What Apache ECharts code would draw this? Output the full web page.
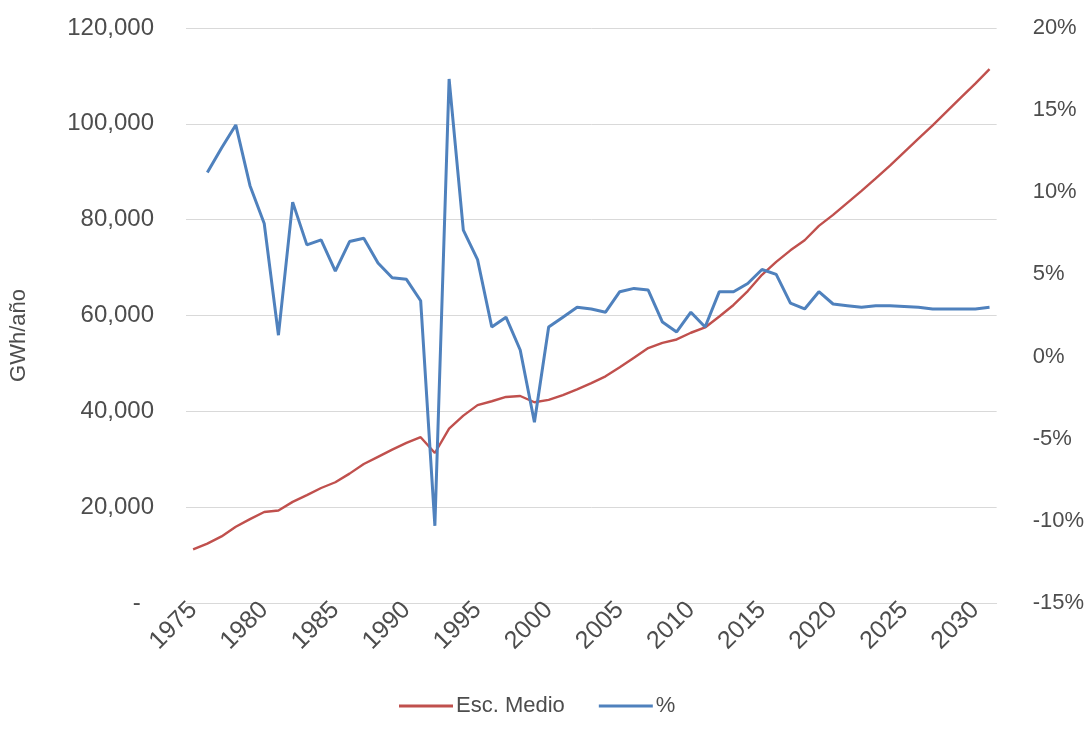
<!DOCTYPE html>
<html>
<head>
<meta charset="utf-8">
<script src="https://cdn.jsdelivr.net/npm/echarts@6/dist/echarts.min.js"></script>
<style>
  html, body { margin: 0; padding: 0; background: #ffffff; }
  #chart { width: 1087px; height: 734px; }
</style>
</head>
<body>
<div id="chart"></div>
<script>
// Years on the category axis
const years = [];
for (let y = 1975; y <= 2031; y++) years.push(String(y));

// Annual electricity demand, medium scenario (GWh/año)
const escMedio = [
  11200, 12400, 13900, 15900, 17500, 19000, 19300, 21100, 22500, 24000,
  25200, 27000, 29000, 30500, 32000, 33400, 34600, 31300, 36400, 39100,
  41300, 42100, 43000, 43200, 41900, 42400, 43400, 44600, 45900, 47300,
  49200, 51200, 53200, 54300, 55000, 56400, 57500, 59800, 62200, 65100,
  68500, 71200, 73600, 75700, 78700, 81000, 83500, 86000, 88600, 91300,
  94100, 96900, 99700, 102600, 105500, 108400, 111400
];

// Year-on-year growth (%), no value for the first year
const growthPct = [
  null, 11.2, 12.7, 14.1, 10.4, 8.1, 1.3, 9.4, 6.8, 7.1,
  5.2, 7.0, 7.2, 5.7, 4.8, 4.7, 3.4, -10.3, 16.9, 7.7,
  5.9, 1.8, 2.4, 0.4, -4.0, 1.8, 2.4, 3.0, 2.9, 2.7,
  3.95, 4.15, 4.05, 2.1, 1.5, 2.7, 1.8, 3.95, 3.95, 4.45,
  5.3, 5.0, 3.25, 2.9, 3.95, 3.2, 3.1, 3.0, 3.1, 3.1,
  3.05, 3.0, 2.9, 2.9, 2.9, 2.9, 3.0
];

const seriesNames = ['Esc. Medio', '%'];
const yLeftTitle = 'GWh/año';

const textColor = '#4d4d4d';
const font = 'Liberation Sans, Arial, sans-serif';

const chart = echarts.init(document.getElementById('chart'), null, { renderer: 'canvas' });

chart.setOption({
  animation: false,
  backgroundColor: '#ffffff',
  grid: { left: 182, right: 90, top: 28, bottom: 131, containLabel: false },
  legend: {
    bottom: 12,
    left: 394,
    itemWidth: 54,
    itemHeight: 3,
    itemGap: 34,
    icon: 'rect',
    textStyle: { color: textColor, fontSize: 22, fontFamily: font, padding: [0, 0, 0, -2] },
    data: seriesNames
  },
  xAxis: {
    type: 'category',
    data: years,
    boundaryGap: true,
    axisLine: { show: true, lineStyle: { color: '#d9d9d9', width: 1 } },
    axisTick: { show: false },
    axisLabel: {
      interval: 4,
      rotate: 45,
      margin: 3,
      padding: [0, 0, 12, 0],
      color: textColor,
      fontSize: 25,
      fontFamily: font
    },
    splitLine: { show: false }
  },
  yAxis: [
    {
      type: 'value',
      min: 0,
      max: 120000,
      interval: 20000,
      name: yLeftTitle,
      nameLocation: 'middle',
      nameRotate: 90,
      nameGap: 156,
      nameTextStyle: { color: textColor, fontSize: 22, fontFamily: font, padding: [0, 40, 0, 0] },
      axisLine: { show: false },
      axisTick: { show: false },
      axisLabel: {
        margin: 32,
        color: textColor,
        fontSize: 24,
        fontFamily: font,
        formatter: function (v) {
          if (v === 0) return '-  ';
          return v.toLocaleString('en-US');
        }
      },
      splitLine: { show: true, lineStyle: { color: '#d9d9d9', width: 1 } }
    },
    {
      type: 'value',
      min: -15,
      max: 20,
      interval: 5,
      position: 'right',
      axisLine: { show: false },
      axisTick: { show: false },
      axisLabel: {
        margin: 36,
        color: textColor,
        fontSize: 22,
        fontFamily: font,
        formatter: function (v) { return v + '%'; }
      },
      splitLine: { show: false }
    }
  ],
  series: [
    {
      name: seriesNames[0],
      type: 'line',
      data: escMedio,
      yAxisIndex: 0,
      symbol: 'none',
      lineStyle: { color: '#C0504D', width: 2.4 },
      itemStyle: { color: '#C0504D' },
      z: 2
    },
    {
      name: seriesNames[1],
      type: 'line',
      data: growthPct,
      yAxisIndex: 1,
      symbol: 'none',
      connectNulls: false,
      lineStyle: { color: '#4F81BD', width: 3 },
      itemStyle: { color: '#4F81BD' },
      z: 3
    }
  ]
});
</script>
</body>
</html>
